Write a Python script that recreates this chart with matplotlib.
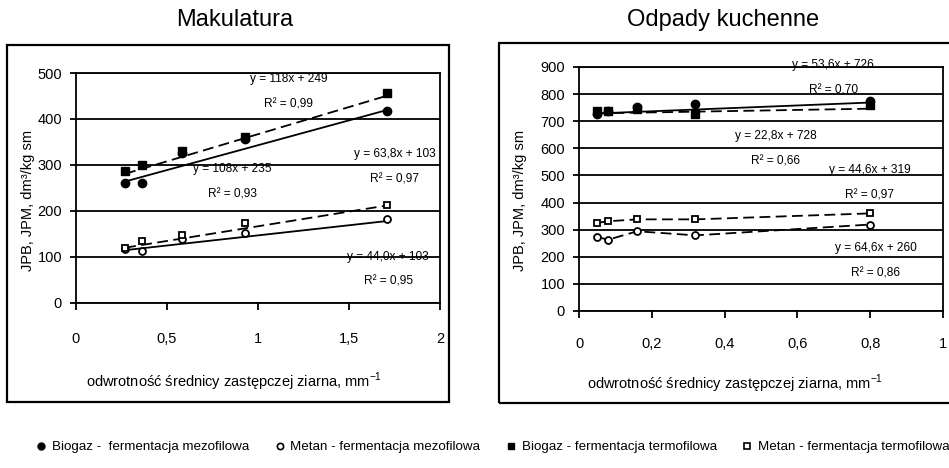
import matplotlib
matplotlib.use('Agg')
import numpy as np
import matplotlib.pyplot as plt
from matplotlib.lines import Line2D
from matplotlib.patches import Rectangle

plt.rcParams['font.family'] = ['Liberation Sans', 'DejaVu Sans']
plt.rcParams['mathtext.fontset'] = 'custom'
plt.rcParams['mathtext.rm'] = 'Liberation Sans'

# Makulatura
mak_x = [0.27, 0.36, 0.58, 0.93, 1.71]
mak_bio_mez = [261, 261, 327, 357, 418]
mak_bio_ter = [286, 300, 331, 361, 457]
mak_met_mez = [117, 114, 139, 152, 183]
mak_met_ter = [120, 135, 148, 174, 213]
# trend lines (slope, intercept): bio_mez, bio_ter, met_mez, met_ter
mak_trend = [(108, 235), (118, 249), (44.0, 103), (63.8, 103)]
mak_eq = ['y = 118x + 249', 'R² = 0,99', 'y = 108x + 235', 'R² = 0,93',
          'y = 63,8x + 103', 'R² = 0,97', 'y = 44,0x + 103', 'R² = 0,95']
mak_xticks = [0, 0.5, 1, 1.5, 2]
mak_xlabels = ['0', '0,5', '1', '1,5', '2']
mak_yticks = [0, 100, 200, 300, 400, 500]

# Odpady kuchenne
odp_x = [0.05, 0.08, 0.16, 0.32, 0.80]
odp_bio_mez = [726, 737, 753, 763, 774]
odp_bio_ter = [738, 737, 744, 728, 759]
odp_met_mez = [273, 263, 294, 279, 319]
odp_met_ter = [325, 331, 338, 338, 360]
odp_trend = [(53.6, 726), (22.8, 728)]
odp_eq = ['y = 53,6x + 726', 'R² = 0,70', 'y = 22,8x + 728', 'R² = 0,66',
          'y = 44,6x + 319', 'R² = 0,97', 'y = 64,6x + 260', 'R² = 0,86']
odp_xticks = [0, 0.2, 0.4, 0.6, 0.8, 1]
odp_xlabels = ['0', '0,2', '0,4', '0,6', '0,8', '1']
odp_yticks = [0, 100, 200, 300, 400, 500, 600, 700, 800, 900]

legend_labels = ['Biogaz -  fermentacja mezofilowa', 'Metan - fermentacja mezofilowa',
                 'Biogaz - fermentacja termofilowa', 'Metan - fermentacja termofilowa']

W, H = 949, 468
fig = plt.figure(figsize=(W / 100, H / 100), dpi=100)

# outer frames
fig.add_artist(Rectangle((7 / W, 1 - 402 / H), 442 / W, 357 / H, transform=fig.transFigure,
                         fill=False, lw=1.6, ec='black'))
fig.add_artist(Rectangle((499 / W, 1 - 403 / H), 460 / W, 360 / H, transform=fig.transFigure,
                         fill=False, lw=1.6, ec='black', clip_on=False))

ax1 = fig.add_axes([76 / W, 1 - 303 / H, 364 / W, 230 / H])
ax2 = fig.add_axes([579 / W, 1 - 311 / H, 364 / W, 244 / H])

fig.text(235 / W, 1 - 20 / H, 'Makulatura', ha='center', va='center', fontsize=17)
fig.text(723 / W, 1 - 20 / H, 'Odpady kuchenne', ha='center', va='center', fontsize=17)

dash = (0, (6, 3))
mk = dict(color='black', ls='none', zorder=5)


def style(ax, xlim, xticks, xlabels, ylim, yticks, pad):
    ax.set_xlim(*xlim)
    ax.set_ylim(*ylim)
    ax.set_xticks(xticks)
    ax.set_xticklabels(xlabels)
    ax.set_yticks(yticks)
    ax.grid(axis='y', color='black', lw=1.3)
    ax.set_axisbelow(True)
    for sp in ax.spines.values():
        sp.set_linewidth(1.3)
        sp.set_color('black')
    ax.tick_params(axis='x', length=5, width=1.3, pad=pad, labelsize=10.5)
    ax.tick_params(axis='y', length=4, width=1.3, pad=6, labelsize=10.5)
    ax.set_xlabel('odwrotność średnicy zastępczej ziarna, mm$^{\\mathregular{-1}}$', fontsize=10.5)
    ax.set_ylabel('JPB, JPM, dm³/kg sm', fontsize=10.5)


# left panel
xs = np.array([mak_x[0], mak_x[-1]])
for (a, b), ls in zip(mak_trend, ['-', dash, '-', dash]):
    ax1.plot(xs, a * xs + b, color='black', lw=1.3, ls=ls, zorder=3)
ax1.plot(mak_x, mak_bio_mez, marker='o', ms=6, mfc='black', **mk)
ax1.plot(mak_x, mak_bio_ter, marker='s', ms=5.5, mfc='black', **mk)
ax1.plot(mak_x, mak_met_mez, marker='o', ms=5, mfc='white', mew=1.3, **mk)
ax1.plot(mak_x, mak_met_ter, marker='s', ms=5, mfc='white', mew=1.3, **mk)
style(ax1, (0, 2), mak_xticks, mak_xlabels, (0, 500), mak_yticks, 16)
ax1.yaxis.set_label_coords(-0.113, 0.448)
ax1.xaxis.set_label_coords(0.434, -0.296)

mak_pos = [(1.167, 487), (1.167, 431), (0.86, 291), (0.86, 236),
           (1.753, 324), (1.75, 268), (1.716, 101), (1.716, 46)]
for (px, py), s in zip(mak_pos, mak_eq):
    ax1.text(px, py, s, ha='center', va='center', fontsize=8.6, zorder=2)

# right panel
xs = np.array([odp_x[0], odp_x[-1]])
for (a, b), ls in zip(odp_trend, ['-', dash]):
    ax2.plot(xs, a * xs + b, color='black', lw=1.3, ls=ls, zorder=3)
ax2.plot(odp_x, odp_met_mez, color='black', lw=1.3, ls=dash, zorder=3)
ax2.plot(odp_x, odp_met_ter, color='black', lw=1.3, ls=dash, zorder=3)
ax2.plot(odp_x, odp_bio_mez, marker='o', ms=6, mfc='black', **mk)
ax2.plot(odp_x, odp_bio_ter, marker='s', ms=5.5, mfc='black', **mk)
ax2.plot(odp_x, odp_met_mez, marker='o', ms=5, mfc='white', mew=1.3, **mk)
ax2.plot(odp_x, odp_met_ter, marker='s', ms=5, mfc='white', mew=1.3, **mk)
style(ax2, (0, 1), odp_xticks, odp_xlabels, (0, 900), odp_yticks, 14)
ax2.yaxis.set_label_coords(-0.143, 0.455)
ax2.xaxis.set_label_coords(0.429, -0.254)

odp_pos = [(0.698, 906), (0.70, 812), (0.541, 646), (0.541, 552),
           (0.799, 521), (0.799, 427), (0.815, 234), (0.815, 140)]
for (px, py), s in zip(odp_pos, odp_eq):
    ax2.text(px, py, s, ha='center', va='center', fontsize=8.6, zorder=2)

# legend
handles = [
    Line2D([], [], marker='o', ls='none', color='black', mfc='black', ms=5),
    Line2D([], [], marker='o', ls='none', color='black', mfc='white', ms=4.5, mew=1.2),
    Line2D([], [], marker='s', ls='none', color='black', mfc='black', ms=4.5),
    Line2D([], [], marker='s', ls='none', color='black', mfc='white', ms=4.5, mew=1.2),
]
fig.legend(handles, legend_labels, loc='center left', bbox_to_anchor=(37 / W, 1 - 447 / H),
           ncol=4, frameon=False, fontsize=9.6, handlelength=0.6, handletextpad=0.5,
           columnspacing=2.0, borderpad=0, borderaxespad=0)

fig.savefig('out.png', dpi=100)
